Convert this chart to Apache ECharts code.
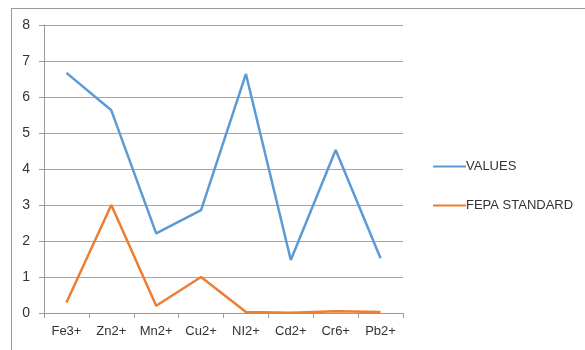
<!DOCTYPE html>
<html><head><meta charset="utf-8">
<script src="https://cdn.jsdelivr.net/npm/echarts@6/dist/echarts.min.js"></script>
<style>html,body{margin:0;padding:0;background:#fff}#c{width:585px;height:350px}</style>
</head><body><div id="c"></div>
<script>
const categories = ['Fe3+','Zn2+','Mn2+','Cu2+','NI2+','Cd2+','Cr6+','Pb2+'];
const values = [6.67, 5.63, 2.21, 2.86, 6.64, 1.47, 4.53, 1.52];
const fepa = [0.29, 3.0, 0.2, 1.0, 0.03, 0.01, 0.05, 0.03];
const yTicks = [0, 8, 1];

const chart = echarts.init(document.getElementById('c'));
const font = '"Liberation Sans", Arial, sans-serif';
chart.setOption({
  animation: false,
  grid: {left: 44, right: 182, top: 25, bottom: 37},
  graphic: [
    {type: 'line', shape: {x1: 11, y1: 8.5, x2: 585, y2: 8.5}, style: {stroke: '#9a9a9a', lineWidth: 1}},
    {type: 'line', shape: {x1: 11.5, y1: 8, x2: 11.5, y2: 350}, style: {stroke: '#9a9a9a', lineWidth: 1}}
  ],
  legend: {
    orient: 'vertical', left: 428, top: 155, itemWidth: 33, itemHeight: 14, itemGap: 26,
    icon: 'path://M0,6 L33,6 L33,8 L0,8 Z',
    textStyle: {fontFamily: font, fontSize: 13, color: '#333', padding: [0,0,0,-5]},
    data: ['VALUES', 'FEPA STANDARD']
  },
  xAxis: {
    type: 'category', data: categories, boundaryGap: true,
    axisLine: {lineStyle: {color: '#9a9a9a'}},
    axisTick: {show: true, length: 5, lineStyle: {color: '#9a9a9a'}},
    axisLabel: {fontFamily: font, fontSize: 13, color: '#333', margin: 12}
  },
  yAxis: {
    type: 'value', min: yTicks[0], max: yTicks[1], interval: yTicks[2],
    axisLine: {show: true, lineStyle: {color: '#9a9a9a'}},
    axisTick: {show: true, length: 5, lineStyle: {color: '#9a9a9a'}},
    splitLine: {lineStyle: {color: '#a6a6a6'}},
    axisLabel: {fontFamily: font, fontSize: 14, color: '#333', margin: 14}
  },
  series: [
    {name: 'VALUES', type: 'line', data: values, symbol: 'none', lineStyle: {color: '#5B9BD5', width: 2.5}, itemStyle: {color: '#5B9BD5'}},
    {name: 'FEPA STANDARD', type: 'line', data: fepa, symbol: 'none', lineStyle: {color: '#ED7D31', width: 2.5}, itemStyle: {color: '#ED7D31'}}
  ]
});
</script></body></html>
